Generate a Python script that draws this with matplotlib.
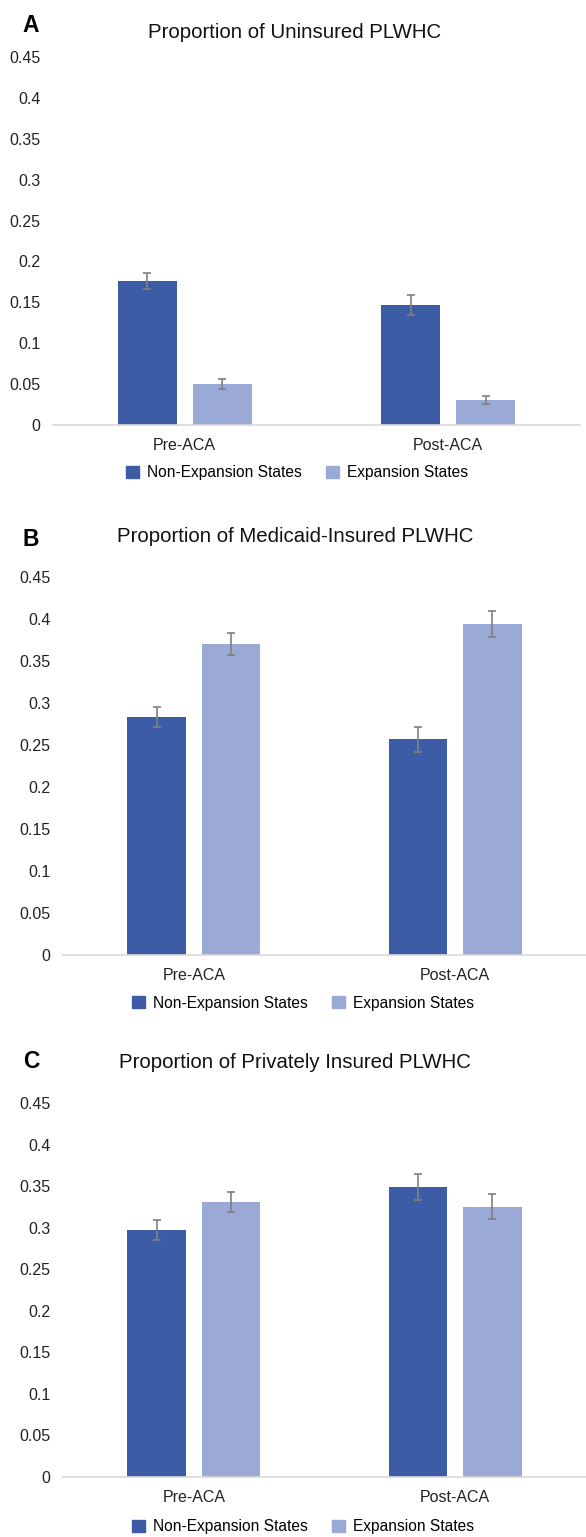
import numpy as np
import matplotlib.pyplot as plt
from matplotlib.patches import Patch

plt.rcParams['font.family'] = ['Liberation Sans', 'DejaVu Sans']

categories = ['Pre-ACA', 'Post-ACA']
series = ['Non-Expansion States', 'Expansion States']
colors = ['#3c5ca6', '#9aa9d5']

titles = ['Proportion of Uninsured PLWHC',
          'Proportion of Medicaid-Insured PLWHC',
          'Proportion of Privately Insured PLWHC']
letters = ['A', 'B', 'C']

# values per panel: [non-expansion, expansion] for [pre, post]
uninsured_nonexp = [0.176, 0.147]
uninsured_exp = [0.050, 0.031]
uninsured_nonexp_err = [0.010, 0.012]
uninsured_exp_err = [0.006, 0.005]

medicaid_nonexp = [0.283, 0.257]
medicaid_exp = [0.370, 0.394]
medicaid_nonexp_err = [0.012, 0.015]
medicaid_exp_err = [0.013, 0.0155]

private_nonexp = [0.297, 0.349]
private_exp = [0.331, 0.325]
private_nonexp_err = [0.012, 0.016]
private_exp_err = [0.0125, 0.015]

panels = [
    (uninsured_nonexp, uninsured_exp, uninsured_nonexp_err, uninsured_exp_err),
    (medicaid_nonexp, medicaid_exp, medicaid_nonexp_err, medicaid_exp_err),
    (private_nonexp, private_exp, private_nonexp_err, private_exp_err),
]

W, H = 586, 1537
fig = plt.figure(figsize=(W / 100, H / 100), dpi=100)

# axes boxes in pixels: left, right, top(0.45), bottom(0)
boxes = [(53, 580, 57, 425), (63, 586, 577, 955), (63, 586, 1103, 1477)]
title_y = [33, 537, 1062]
letter_y = [25, 540, 1061]
legend_pos = [(297, 473), (303, 1003), (303, 1527)]

x = np.arange(len(categories))
bw = 0.224
off = 0.142

for i, (ne, ex, ne_err, ex_err) in enumerate(panels):
    l, r, t, b = boxes[i]
    ax = fig.add_axes([l / W, 1 - b / H, (r - l) / W, (b - t) / H])
    ax.bar(x - off, ne, bw, color=colors[0], yerr=ne_err, capsize=3,
           error_kw=dict(ecolor='#7f7f7f', elinewidth=1.2, capthick=1.2))
    ax.bar(x + off, ex, bw, color=colors[1], yerr=ex_err, capsize=3,
           error_kw=dict(ecolor='#7f7f7f', elinewidth=1.2, capthick=1.2))
    ax.set_xlim(-0.5, 1.5)
    ax.set_ylim(0, 0.45)
    ax.set_yticks(np.arange(0, 0.451, 0.05))
    ax.set_yticklabels(['0', '0.05', '0.1', '0.15', '0.2', '0.25', '0.3',
                        '0.35', '0.4', '0.45'])
    ax.set_xticks(x)
    ax.set_xticklabels(categories)
    ax.tick_params(axis='both', length=0, labelsize=11.5, colors='#222222')
    ax.tick_params(axis='y', pad=9)
    ax.tick_params(axis='x', pad=9)
    for s in ['top', 'right', 'left']:
        ax.spines[s].set_visible(False)
    ax.spines['bottom'].set_color('#d9d9d9')
    ax.spines['bottom'].set_linewidth(1.2)

    fig.text(295 / W, 1 - title_y[i] / H, titles[i], ha='center',
             va='center', fontsize=14.7, color='#111111')
    fig.text(31 / W, 1 - letter_y[i] / H, letters[i], ha='center',
             va='center', fontsize=16.5, fontweight='bold')

    handles = [Patch(color=c) for c in colors]
    lx, ly = legend_pos[i]
    fig.legend(handles, series, loc='center', ncol=2, frameon=False,
               bbox_to_anchor=(lx / W, 1 - ly / H), fontsize=11.2,
               handlelength=0.8, handleheight=0.8, handletextpad=0.5,
               columnspacing=1.6)

fig.savefig('out.png', dpi=100)
